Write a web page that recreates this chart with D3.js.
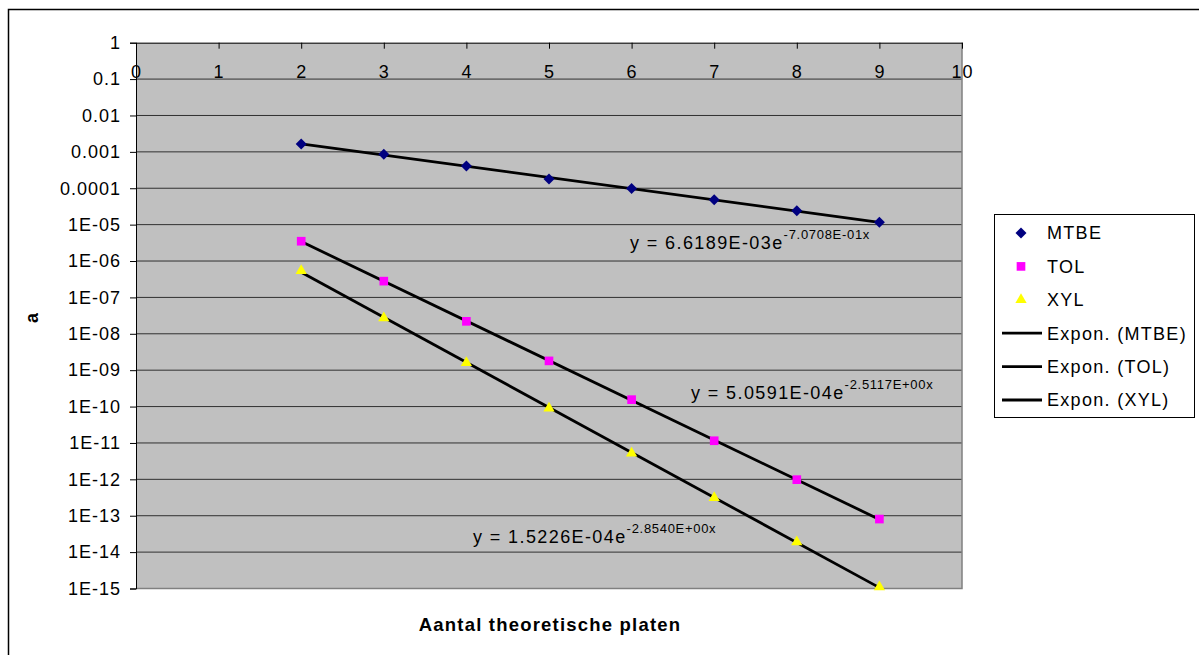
<!DOCTYPE html>
<html>
<head>
<meta charset="utf-8">
<script src="https://cdn.jsdelivr.net/npm/d3@7"></script>
<style>
  body { margin: 0; background: #fff; }
  svg { display: block; font-family: "Liberation Sans", Arial, sans-serif; }
</style>
</head>
<body>
<svg id="chart" width="1199" height="655"></svg>
<script>
// x values (number of theoretical plates)
const plates = [2, 3, 4, 5, 6, 7, 8, 9];

// series values
const mtbe = [1.65e-3, 8.6e-4, 4.1e-4, 1.8e-4, 9.8e-5, 4.8e-5, 2.4e-5, 1.16e-5];
const tol  = [3.5e-6, 2.8e-7, 2.2e-8, 1.8e-9, 1.55e-10, 1.15e-11, 9.8e-13, 8.1e-14];
const xyl  = [5.4e-7, 2.7e-8, 1.6e-9, 9.0e-11, 5.2e-12, 3.1e-13, 1.9e-14, 1.1e-15];

const seriesNames = ['MTBE', 'TOL', 'XYL'];
const trendNames = ['Expon. (MTBE)', 'Expon. (TOL)', 'Expon. (XYL)'];

// trendline equation labels: [base, exponent]
const equations = [
  ['y = 6.6189E-03e', '-7.0708E-01x'],
  ['y = 5.0591E-04e', '-2.5117E+00x'],
  ['y = 1.5226E-04e', '-2.8540E+00x']
];

const xTicks = [0, 1, 2, 3, 4, 5, 6, 7, 8, 9, 10];
const yTickLabels = ['1', '0.1', '0.01', '0.001', '0.0001', '1E-05', '1E-06', '1E-07',
  '1E-08', '1E-09', '1E-10', '1E-11', '1E-12', '1E-13', '1E-14', '1E-15'];
const yTicks = yTickLabels.map((d, i) => Math.pow(10, -i));

const svg = d3.select('#chart');
const plot = { left: 136, right: 962, top: 42.7, bottom: 588.5 };
const FONT = '"Liberation Sans", Arial, sans-serif';

const x = d3.scaleLinear().domain([0, 10]).range([plot.left, plot.right]);
const y = d3.scaleLog().domain([1e-15, 1]).range([plot.bottom, plot.top]);

// outer chart border (runs off the right and bottom edges)
svg.append('rect')
  .attr('x', 8.5).attr('y', 9.5)
  .attr('width', 1200).attr('height', 660)
  .attr('fill', '#fff').attr('stroke', '#000').attr('stroke-width', 1.5);

// plot area
svg.append('rect')
  .attr('x', plot.left).attr('y', plot.top)
  .attr('width', plot.right - plot.left).attr('height', plot.bottom - plot.top)
  .attr('fill', '#c0c0c0');

// gridlines
svg.append('g')
  .selectAll('line')
  .data(yTicks.slice(1))
  .join('line')
  .attr('x1', plot.left).attr('x2', plot.right)
  .attr('y1', d => y(d)).attr('y2', d => y(d))
  .attr('stroke', '#303030').attr('stroke-width', 1);

// plot area border right/bottom
svg.append('path')
  .attr('d', `M${plot.right},${plot.top}V${plot.bottom}H${plot.left}`)
  .attr('fill', 'none').attr('stroke', '#808080').attr('stroke-width', 1.5);

// Y axis
const yAxis = svg.append('g')
  .attr('transform', `translate(${plot.left},0)`)
  .call(d3.axisLeft(y).tickValues(yTicks).tickSize(6).tickPadding(9)
    .tickFormat((d, i) => yTickLabels[i]));
yAxis.select('.domain').attr('stroke', '#000');
yAxis.selectAll('.tick line').attr('stroke', '#000');
yAxis.selectAll('text')
  .attr('font-family', FONT).attr('font-size', '18px')
  .attr('letter-spacing', '1px').attr('fill', '#000');

// X axis along the top, ticks inward, labels below
const xAxis = svg.append('g')
  .attr('transform', `translate(0,${plot.top})`)
  .call(d3.axisBottom(x).tickValues(xTicks).tickSize(6).tickPadding(17).tickSizeOuter(0));
xAxis.select('.domain').attr('stroke', '#000');
xAxis.selectAll('.tick line').attr('stroke', '#000');
xAxis.selectAll('text')
  .attr('font-family', FONT).attr('font-size', '18px')
  .attr('letter-spacing', '1px').attr('fill', '#000');

// exponential fit (least squares on ln y), as Excel does
function expFit(xs, ys) {
  const ly = ys.map(Math.log);
  const mx = d3.mean(xs), my = d3.mean(ly);
  const b = d3.sum(xs, (v, i) => (v - mx) * (ly[i] - my)) / d3.sum(xs, v => (v - mx) ** 2);
  const a = Math.exp(my - b * mx);
  return { a, b };
}

const allSeries = [mtbe, tol, xyl];
const line = d3.line().x(d => x(d[0])).y(d => y(d[1]));

// trendlines (straight on log axis, so the two ends are enough)
allSeries.forEach(vals => {
  const f = expFit(plates, vals);
  const ends = d3.extent(plates).map(p => [p, f.a * Math.exp(f.b * p)]);
  svg.append('path')
    .attr('d', line(ends))
    .attr('fill', 'none').attr('stroke', '#000').attr('stroke-width', 2.8);
});

// markers: Excel-style square diamond
const excelDiamond = {
  draw(ctx, size) {
    const r = Math.sqrt(size / 2);
    ctx.moveTo(0, -r); ctx.lineTo(r, 0); ctx.lineTo(0, r); ctx.lineTo(-r, 0); ctx.closePath();
  }
};
const symbols = [excelDiamond, d3.symbolSquare, d3.symbolTriangle];
const colors = ['#000080', '#ff00ff', '#ffff00'];
const sizes = [60, 75, 55];

allSeries.forEach((vals, si) => {
  svg.append('g')
    .selectAll('path')
    .data(vals.map((v, i) => [plates[i], v]))
    .join('path')
    .attr('transform', d => `translate(${x(d[0])},${y(d[1])})`)
    .attr('d', d3.symbol().type(symbols[si]).size(sizes[si]))
    .attr('fill', colors[si]);
});

// equation labels
const eqPos = [[630, 249], [691, 399], [473, 543]];
equations.forEach((eq, i) => {
  const t = svg.append('text')
    .attr('x', eqPos[i][0]).attr('y', eqPos[i][1])
    .attr('font-size', '18px').attr('letter-spacing', '1.4px').attr('fill', '#000');
  t.append('tspan').text(eq[0]);
  t.append('tspan').attr('dy', -10).attr('font-size', '13px')
    .attr('letter-spacing', '0.7px').text(eq[1]);
});

// axis titles
svg.append('text')
  .attr('x', 550).attr('y', 631)
  .attr('text-anchor', 'middle')
  .attr('font-size', '18.5px').attr('font-weight', 'bold').attr('letter-spacing', '1.2px')
  .text('Aantal theoretische platen');

svg.append('text')
  .attr('transform', 'translate(38,318) rotate(-90)')
  .attr('text-anchor', 'middle')
  .attr('font-size', '18px').attr('font-weight', 'bold')
  .text('a');

// legend
const legend = svg.append('g');
legend.append('rect')
  .attr('x', 994.5).attr('y', 214.5).attr('width', 200).attr('height', 203)
  .attr('fill', '#fff').attr('stroke', '#000').attr('stroke-width', 1);

const rowY = d3.scaleLinear().domain([0, 5]).range([233, 400]);
seriesNames.forEach((name, i) => {
  legend.append('path')
    .attr('transform', `translate(1021,${rowY(i)})`)
    .attr('d', d3.symbol().type(symbols[i]).size(sizes[i]))
    .attr('fill', colors[i]);
  legend.append('text')
    .attr('x', 1047).attr('y', rowY(i)).attr('dy', '0.36em')
    .attr('font-size', '18px').attr('letter-spacing', '1.3px').text(name);
});
trendNames.forEach((name, j) => {
  const ry = rowY(j + 3);
  legend.append('line')
    .attr('x1', 1002).attr('x2', 1042).attr('y1', ry).attr('y2', ry)
    .attr('stroke', '#000').attr('stroke-width', 2.8);
  legend.append('text')
    .attr('x', 1047).attr('y', ry).attr('dy', '0.36em')
    .attr('font-size', '18px').attr('letter-spacing', '1.3px').text(name);
});
</script>
</body>
</html>
